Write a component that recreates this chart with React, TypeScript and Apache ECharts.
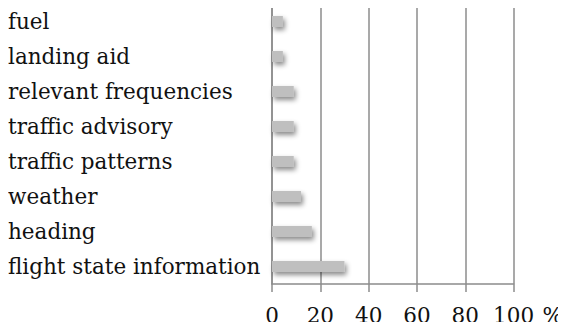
import React, { useEffect, useRef } from "react";
import * as echarts from "echarts";

// Categories listed top to bottom
const categories = [
  "fuel",
  "landing aid",
  "relevant frequencies",
  "traffic advisory",
  "traffic patterns",
  "weather",
  "heading",
  "flight state information",
];

// Share of mentions, in percent
const shares = [4.5, 4.5, 9, 9, 9, 12, 16.5, 30];

const xTicks = [0, 20, 40, 60, 80, 100];

const FONT = "DejaVu Serif, serif";
const FONT_SIZE = 21.5;

export default function App() {
  const ref = useRef<HTMLDivElement>(null);

  useEffect(() => {
    if (!ref.current) return;
    const chart = echarts.init(ref.current, null, { renderer: "svg" });
    chart.setOption({
      animation: false,
      grid: { left: 272, right: 52, top: 4, bottom: 46, containLabel: false },
      xAxis: {
        type: "value",
        min: xTicks[0],
        max: xTicks[xTicks.length - 1],
        interval: 20,
        name: "%",
        nameLocation: "end",
        nameGap: 29,
        nameTextStyle: {
          fontFamily: FONT,
          fontSize: FONT_SIZE,
          color: "#111",
          verticalAlign: "top",
          align: "left",
          padding: [20, 0, 0, 0],
        },
        axisLine: { show: true, lineStyle: { color: "#8c8c8c", width: 1.5 } },
        axisTick: { show: true, length: 8, lineStyle: { color: "#8c8c8c", width: 1.5 } },
        splitLine: { show: true, lineStyle: { color: "#8c8c8c", width: 1.5 } },
        axisLabel: {
          margin: 20,
          fontFamily: FONT,
          fontSize: FONT_SIZE,
          color: "#111",
        },
      },
      yAxis: {
        type: "category",
        data: categories,
        inverse: true,
        axisLine: { show: true, lineStyle: { color: "#8c8c8c", width: 1.5 } },
        axisTick: { show: false },
        axisLabel: {
          align: "left",
          margin: 264,
          fontFamily: FONT,
          fontSize: FONT_SIZE,
          color: "#111",
        },
      },
      series: [
        {
          type: "bar",
          data: shares,
          barWidth: 11,
          itemStyle: {
            color: "#bfbfbf",
            shadowColor: "rgba(0,0,0,0.45)",
            shadowBlur: 5,
            shadowOffsetX: 2,
            shadowOffsetY: 3,
          },
        },
      ],
    });
    return () => chart.dispose();
  }, []);

  return <div ref={ref} style={{ width: 566, height: 330, margin: -8 }} />;
}
